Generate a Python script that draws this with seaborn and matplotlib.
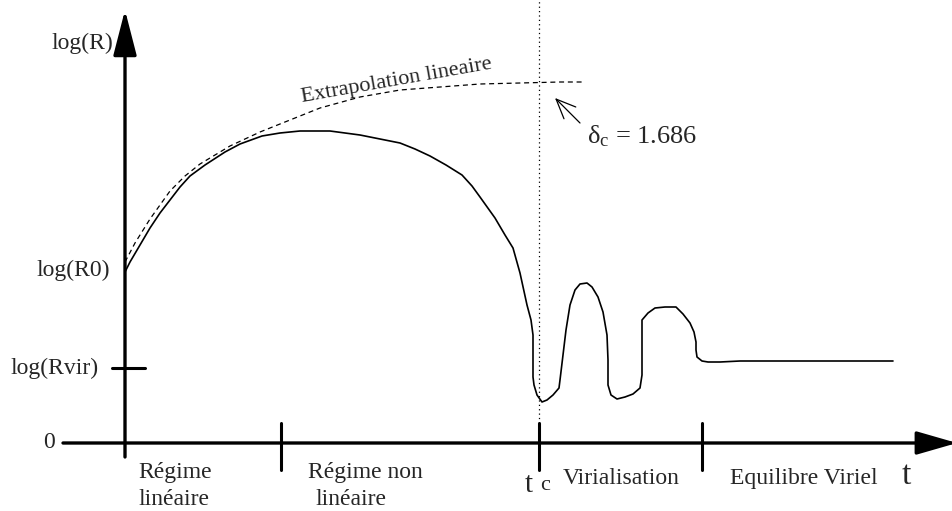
import matplotlib
matplotlib.use('Agg')
import matplotlib.pyplot as plt
import seaborn as sns
import pandas as pd

sns.set_theme(style='white')
plt.rcParams['font.family'] = ['Liberation Serif', 'DejaVu Serif']
plt.rcParams['mathtext.fontset'] = 'custom'
plt.rcParams['mathtext.rm'] = 'Liberation Serif'
plt.rcParams['mathtext.it'] = 'Liberation Serif:italic'

# ── Data (t, log R) in schematic units, origin at the axes crossing ──────────
evol_t = [0, 5, 15, 25, 35, 45, 55, 65, 80, 100, 115, 137, 155, 175, 190,
          205, 220, 235, 255, 275, 290, 305, 321, 337, 347, 355, 370, 380,
          388, 395, 402, 406, 408, 408, 409, 412, 417, 422, 428, 434, 435,
          438, 441, 445, 450, 455, 462, 467, 473, 478, 482, 483, 483, 486,
          492, 500, 508, 515, 517, 517, 517, 523, 530, 540, 551, 558, 565,
          569, 571, 571, 572, 577, 583, 595, 615, 768]
evol_logR = [171, 181, 198, 215, 230, 243, 256, 267, 278, 291, 299, 307, 310,
             312, 312, 312, 310, 308, 304, 300, 294, 287, 278, 268, 257, 246,
             225, 208, 195, 170, 138, 123, 108, 66, 58, 48, 41, 43, 48, 55,
             63, 88, 113, 138, 153, 159, 160, 156, 146, 131, 108, 83, 58, 48,
             44, 46, 49, 55, 68, 81, 123, 130, 135, 136, 136, 129, 120, 111,
             101, 93, 86, 82, 81, 81, 82, 82]

extrap_t = [0, 10, 25, 45, 60, 75, 105, 135, 165, 195, 235, 275, 315, 355,
            395, 435, 457]
extrap_logR = [181, 200, 224, 252, 267, 279, 297, 311, 323, 335, 346, 353,
               356, 359, 360, 361, 361]

phase_ticks = [156, 414, 577]
logR0, logRvir = 171, 75
t_c = 414

evol = pd.DataFrame({'t': evol_t, 'logR': evol_logR})
extrap = pd.DataFrame({'t': extrap_t, 'logR': extrap_logR})

fig = plt.figure(figsize=(9.52, 5.11), dpi=100)
ax = fig.add_axes([0, 0, 1, 1])
ax.set_xlim(-125, 827)
ax.set_ylim(-68, 443)
ax.set_axis_off()

# curves
sns.lineplot(data=evol, x='t', y='logR', sort=False, estimator=None,
             color='black', linewidth=1.2, ax=ax)
sns.lineplot(data=extrap, x='t', y='logR', sort=False, estimator=None,
             color='black', linewidth=0.9, linestyle=(0, (4, 3)), ax=ax)

# t_c dotted line
ax.plot([t_c, t_c], [20, 443], color='black', linewidth=0.9,
        linestyle=(0, (1, 2.5)))

# axes with arrows
ax.annotate('', xy=(0, 433), xytext=(0, -14), annotation_clip=False,
            arrowprops=dict(arrowstyle='-|>,head_length=1.4,head_width=0.36',
                            lw=2.4, color='black', mutation_scale=20,
                            shrinkA=0, shrinkB=0))
ax.annotate('', xy=(832, 0), xytext=(-62, 0), annotation_clip=False,
            arrowprops=dict(arrowstyle='-|>,head_length=1.25,head_width=0.36',
                            lw=2.4, color='black', mutation_scale=20,
                            shrinkA=0, shrinkB=0))
for tt in phase_ticks:
    ax.plot([tt, tt], [20, -27], color='black', linewidth=2.2)
ax.plot([-13, 20], [logRvir, logRvir], color='black', linewidth=2.2)

# y labels
fs = 17
ax.text(-12, 400, 'log(R)', ha='right', va='center', fontsize=fs)
ax.text(-15, logR0 + 2, 'log(R0)', ha='right', va='center', fontsize=fs)
ax.text(-26, logRvir, 'log(Rvir)', ha='right', va='center', fontsize=fs)
ax.text(-76, 1, '0', ha='center', va='center', fontsize=fs)

# phase labels
ax.text(13, -35, 'Régime', ha='left', va='baseline', fontsize=fs)
ax.text(13, -62, 'linéaire', ha='left', va='baseline', fontsize=fs)
ax.text(183, -35, 'Régime non', ha='left', va='baseline', fontsize=fs)
ax.text(190, -62, 'linéaire', ha='left', va='baseline', fontsize=fs)
ax.text(400, -49, 't', ha='left', va='baseline', fontsize=21)
ax.text(415, -47, 'c', ha='left', va='baseline', fontsize=16)
ax.text(438, -41, 'Virialisation', ha='left', va='baseline', fontsize=fs)
ax.text(605, -41, 'Equilibre Viriel', ha='left', va='baseline', fontsize=fs)
ax.text(777, -41, 't', ha='left', va='baseline', fontsize=24)

# annotations
ax.text(272, 358, 'Extrapolation lineaire', ha='center', va='baseline',
        rotation=10, rotation_mode='anchor', fontsize=16)
ax.annotate('', xy=(430, 345), xytext=(455, 320),
            arrowprops=dict(arrowstyle='->,head_length=0.7,head_width=0.3',
                            lw=0.9, color='black', mutation_scale=20,
                            shrinkA=0, shrinkB=0))
ax.text(462, 300, r'$\mathregular{\delta_c}$ = 1.686', ha='left',
        va='baseline', fontsize=19)

fig.savefig('out.png', dpi=100, facecolor='white')
